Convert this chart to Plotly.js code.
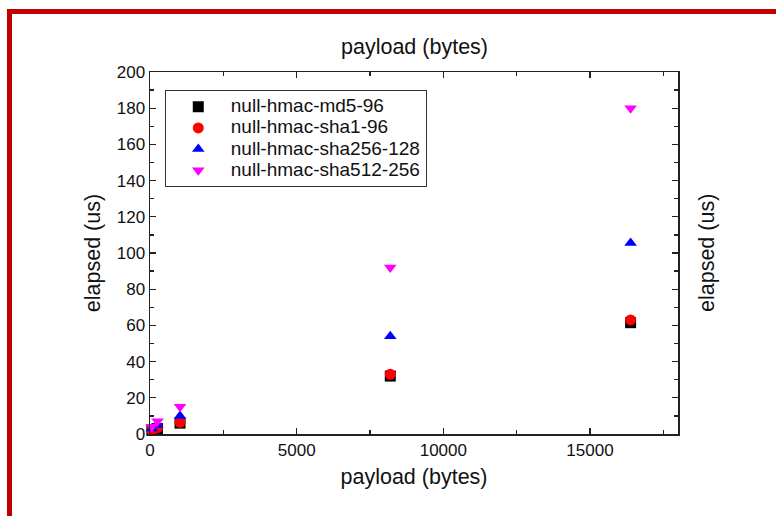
<!DOCTYPE html>
<html>
<head>
<meta charset="utf-8">
<script src="https://cdn.plot.ly/plotly-3.0.1.min.js"></script>
<style>
  html, body { margin: 0; padding: 0; background: #fff; overflow: hidden; }
  #frame { position: absolute; left: 7px; top: 9px; width: 900px; height: 700px;
           border-left: 5px solid #c00000; border-top: 5px solid #c00000; box-sizing: border-box; }
  #chart { position: absolute; left: 0; top: 0; width: 776px; height: 516px; }
</style>
</head>
<body>
<div id="chart"></div>
<div id="frame"></div>
<script>
// Payload sizes in bytes
const payload = [64, 256, 1024, 8192, 16384];

// Elapsed time (us) per algorithm
const md5_96 = [2, 3, 6, 32, 61.5];
const sha1_96 = [2, 3.5, 6.5, 33, 63];
const sha256_128 = [3, 5, 10, 54, 105.5];
const sha512_256 = [4, 7, 15, 92, 180];

const seriesNames = ['null-hmac-md5-96', 'null-hmac-sha1-96', 'null-hmac-sha256-128', 'null-hmac-sha512-256'];
const seriesValues = [md5_96, sha1_96, sha256_128, sha512_256];
const seriesColors = ['#000000', '#ff0000', '#0000ff', '#ff00ff'];
const seriesSymbols = ['square', 'circle', 'triangle-up', 'triangle-down'];

// Legend rows are kept compact (spacing follows legend.font.size) while
// the entry text itself is drawn larger.
const traces = seriesNames.map((name, i) => ({
  type: 'scatter',
  mode: 'markers',
  name: '<span style="font-size:19px">' + name + '</span>',
  x: payload,
  y: seriesValues[i],
  marker: { symbol: seriesSymbols[i], color: seriesColors[i], size: 11, line: { width: 0 } },
  cliponaxis: false
}));

const font = { family: 'Liberation Sans, Arial, sans-serif', color: '#111' };
const titleSize = 21.5;

const axisCommon = {
  showgrid: false,
  zeroline: false,
  showline: true,
  linecolor: '#222',
  linewidth: 1.5,
  mirror: 'ticks',
  ticks: 'inside',
  ticklen: 6,
  tickwidth: 1.3,
  tickcolor: '#222',
  tickfont: Object.assign({ size: 17 }, font),
  minor: { ticks: 'inside', ticklen: 4, tickwidth: 1.3, tickcolor: '#222' }
};

const layout = {
  width: 776,
  height: 516,
  margin: { l: 150, r: 98, t: 72, b: 82 },
  paper_bgcolor: '#fff',
  plot_bgcolor: '#fff',
  font: font,
  showlegend: true,
  legend: {
    x: 0.028, y: 0.95, xanchor: 'left', yanchor: 'top',
    bgcolor: '#fff', bordercolor: '#333', borderwidth: 1,
    font: Object.assign({ size: 14 }, font),
    tracegroupgap: 0, itemwidth: 55
  },
  xaxis: Object.assign({}, axisCommon, {
    range: [0, 18000],
    tickvals: [0, 5000, 10000, 15000],
    ticktext: ['0', '5000', '10000', '15000'],
    minor: Object.assign({}, axisCommon.minor, { dtick: 2500, tick0: 0 }),
    title: { text: 'payload (bytes)', font: Object.assign({ size: titleSize }, font), standoff: 10 }
  }),
  yaxis: Object.assign({}, axisCommon, {
    range: [0, 200],
    dtick: 20,
    minor: Object.assign({}, axisCommon.minor, { dtick: 10, tick0: 0 }),
    title: { text: 'elapsed (us)', font: Object.assign({ size: titleSize }, font), standoff: 10 }
  }),
  annotations: [
    { text: 'payload (bytes)', xref: 'paper', yref: 'paper', x: 0.5, y: 1, yshift: 25,
      showarrow: false, xanchor: 'center', yanchor: 'middle', font: Object.assign({ size: titleSize }, font) },
    { text: 'elapsed (us)', xref: 'paper', yref: 'paper', x: 1, y: 0.5, xshift: 29, textangle: -90,
      showarrow: false, xanchor: 'center', yanchor: 'middle', font: Object.assign({ size: titleSize }, font) }
  ]
};

Plotly.newPlot('chart', traces, layout, { displayModeBar: false, staticPlot: true });
</script>
</body>
</html>
